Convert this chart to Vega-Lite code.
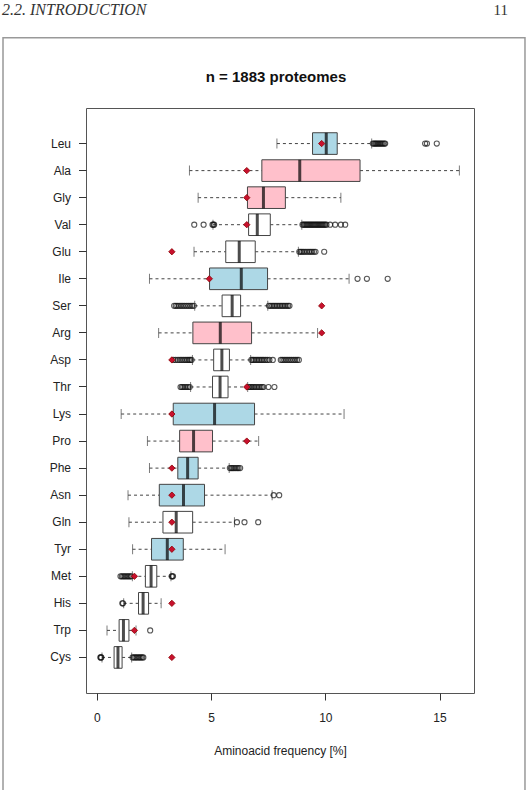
{
  "$schema": "https://vega.github.io/schema/vega-lite/v6.json",
  "autosize": {"type": "none"},
  "width": 388,
  "height": 585,
  "padding": {"left": 86, "top": 108, "right": 56, "bottom": 97},
  "background": "white",
  "config": {
    "font": "Liberation Sans",
    "view": {"stroke": "#555", "strokeWidth": 1},
    "axis": {
      "grid": false,
      "domain": false,
      "tickColor": "#333",
      "labelColor": "#222",
      "titleColor": "#222",
      "labelFont": "Liberation Sans",
      "titleFont": "Liberation Sans",
      "labelFontSize": 12,
      "titleFontSize": 12,
      "titleFontWeight": "normal"
    }
  },
  "datasets": {
    "stats": [
      {"aa": "Leu", "lo": 7.88, "q1": 9.44, "med": 10.04, "q3": 10.52, "hi": 12.03, "expected": 9.84, "group": "AT-rich"},
      {"aa": "Ala", "lo": 4.05, "q1": 7.22, "med": 8.88, "q3": 11.52, "hi": 15.87, "expected": 6.56, "group": "GC-rich"},
      {"aa": "Gly", "lo": 4.43, "q1": 6.59, "med": 7.29, "q3": 8.25, "hi": 10.68, "expected": 6.56, "group": "GC-rich"},
      {"aa": "Val", "lo": 5.08, "q1": 6.64, "med": 7.02, "q3": 7.59, "hi": 8.97, "expected": 6.56, "group": "other"},
      {"aa": "Glu", "lo": 4.25, "q1": 5.64, "med": 6.23, "q3": 6.93, "hi": 8.82, "expected": 3.28, "group": "other"},
      {"aa": "Ile", "lo": 2.30, "q1": 4.93, "med": 6.32, "q3": 7.47, "hi": 11.04, "expected": 4.92, "group": "AT-rich"},
      {"aa": "Ser", "lo": 4.28, "q1": 5.48, "med": 5.92, "q3": 6.29, "hi": 7.48, "expected": 9.84, "group": "other"},
      {"aa": "Arg", "lo": 2.70, "q1": 4.20, "med": 5.40, "q3": 6.77, "hi": 9.66, "expected": 9.84, "group": "GC-rich"},
      {"aa": "Asp", "lo": 4.18, "q1": 5.11, "med": 5.47, "q3": 5.80, "hi": 6.73, "expected": 3.28, "group": "other"},
      {"aa": "Thr", "lo": 4.10, "q1": 5.06, "med": 5.39, "q3": 5.74, "hi": 6.60, "expected": 6.56, "group": "other"},
      {"aa": "Lys", "lo": 1.06, "q1": 3.34, "med": 5.15, "q3": 6.90, "hi": 10.82, "expected": 3.28, "group": "AT-rich"},
      {"aa": "Pro", "lo": 2.21, "q1": 3.62, "med": 4.23, "q3": 5.06, "hi": 7.08, "expected": 6.56, "group": "GC-rich"},
      {"aa": "Phe", "lo": 2.30, "q1": 3.54, "med": 3.97, "q3": 4.43, "hi": 5.79, "expected": 3.28, "group": "AT-rich"},
      {"aa": "Asn", "lo": 1.36, "q1": 2.73, "med": 3.79, "q3": 4.71, "hi": 7.67, "expected": 3.28, "group": "AT-rich"},
      {"aa": "Gln", "lo": 1.40, "q1": 2.89, "med": 3.47, "q3": 4.19, "hi": 6.02, "expected": 3.28, "group": "other"},
      {"aa": "Tyr", "lo": 1.56, "q1": 2.39, "med": 3.08, "q3": 3.78, "hi": 5.61, "expected": 3.28, "group": "AT-rich"},
      {"aa": "Met", "lo": 1.55, "q1": 2.12, "med": 2.37, "q3": 2.62, "hi": 3.24, "expected": 1.64, "group": "other"},
      {"aa": "His", "lo": 1.17, "q1": 1.82, "med": 2.02, "q3": 2.26, "hi": 2.81, "expected": 3.28, "group": "other"},
      {"aa": "Trp", "lo": 0.44, "q1": 0.97, "med": 1.16, "q3": 1.40, "hi": 1.71, "expected": 1.64, "group": "other"},
      {"aa": "Cys", "lo": 0.22, "q1": 0.75, "med": 0.92, "q3": 1.10, "hi": 1.52, "expected": 3.28, "group": "other"}
    ],
    "outliers": [
      {"aa": "Leu", "v": 12.08}, {"aa": "Leu", "v": 12.13}, {"aa": "Leu", "v": 12.18}, {"aa": "Leu", "v": 12.22},
      {"aa": "Leu", "v": 12.27}, {"aa": "Leu", "v": 12.32}, {"aa": "Leu", "v": 12.37}, {"aa": "Leu", "v": 12.42},
      {"aa": "Leu", "v": 12.47}, {"aa": "Leu", "v": 12.52}, {"aa": "Leu", "v": 12.58}, {"aa": "Leu", "v": 12.62},
      {"aa": "Leu", "v": 14.37}, {"aa": "Leu", "v": 14.45}, {"aa": "Leu", "v": 14.88},
      {"aa": "Val", "v": 4.26}, {"aa": "Val", "v": 4.67}, {"aa": "Val", "v": 5.06}, {"aa": "Val", "v": 5.10}, {"aa": "Val", "v": 5.13},
      {"aa": "Val", "v": 9.00}, {"aa": "Val", "v": 9.05}, {"aa": "Val", "v": 9.10}, {"aa": "Val", "v": 9.15},
      {"aa": "Val", "v": 9.20}, {"aa": "Val", "v": 9.25}, {"aa": "Val", "v": 9.30}, {"aa": "Val", "v": 9.35},
      {"aa": "Val", "v": 9.40}, {"aa": "Val", "v": 9.45}, {"aa": "Val", "v": 9.50}, {"aa": "Val", "v": 9.55},
      {"aa": "Val", "v": 9.60}, {"aa": "Val", "v": 9.65}, {"aa": "Val", "v": 9.70}, {"aa": "Val", "v": 9.75},
      {"aa": "Val", "v": 9.80}, {"aa": "Val", "v": 9.85}, {"aa": "Val", "v": 9.90}, {"aa": "Val", "v": 9.95},
      {"aa": "Val", "v": 10.00}, {"aa": "Val", "v": 10.05}, {"aa": "Val", "v": 10.21}, {"aa": "Val", "v": 10.43},
      {"aa": "Val", "v": 10.68}, {"aa": "Val", "v": 10.87},
      {"aa": "Glu", "v": 8.86}, {"aa": "Glu", "v": 8.92}, {"aa": "Glu", "v": 8.98}, {"aa": "Glu", "v": 9.05},
      {"aa": "Glu", "v": 9.12}, {"aa": "Glu", "v": 9.20}, {"aa": "Glu", "v": 9.28}, {"aa": "Glu", "v": 9.35},
      {"aa": "Glu", "v": 9.42}, {"aa": "Glu", "v": 9.50}, {"aa": "Glu", "v": 9.57}, {"aa": "Glu", "v": 9.95},
      {"aa": "Ile", "v": 11.41}, {"aa": "Ile", "v": 11.82}, {"aa": "Ile", "v": 12.73},
      {"aa": "Ser", "v": 3.38}, {"aa": "Ser", "v": 3.45}, {"aa": "Ser", "v": 3.52}, {"aa": "Ser", "v": 3.60},
      {"aa": "Ser", "v": 3.68}, {"aa": "Ser", "v": 3.76}, {"aa": "Ser", "v": 3.84}, {"aa": "Ser", "v": 3.92},
      {"aa": "Ser", "v": 4.00}, {"aa": "Ser", "v": 4.08}, {"aa": "Ser", "v": 4.16}, {"aa": "Ser", "v": 4.24},
      {"aa": "Ser", "v": 7.53}, {"aa": "Ser", "v": 7.60}, {"aa": "Ser", "v": 7.67}, {"aa": "Ser", "v": 7.74},
      {"aa": "Ser", "v": 7.81}, {"aa": "Ser", "v": 7.88}, {"aa": "Ser", "v": 7.95}, {"aa": "Ser", "v": 8.02},
      {"aa": "Ser", "v": 8.09}, {"aa": "Ser", "v": 8.16}, {"aa": "Ser", "v": 8.23}, {"aa": "Ser", "v": 8.30},
      {"aa": "Ser", "v": 8.37}, {"aa": "Ser", "v": 8.43},
      {"aa": "Asp", "v": 3.35}, {"aa": "Asp", "v": 3.45}, {"aa": "Asp", "v": 3.55}, {"aa": "Asp", "v": 3.64},
      {"aa": "Asp", "v": 3.72}, {"aa": "Asp", "v": 3.80}, {"aa": "Asp", "v": 3.88}, {"aa": "Asp", "v": 3.95},
      {"aa": "Asp", "v": 4.02}, {"aa": "Asp", "v": 4.08}, {"aa": "Asp", "v": 4.14},
      {"aa": "Asp", "v": 6.76}, {"aa": "Asp", "v": 6.82}, {"aa": "Asp", "v": 6.88}, {"aa": "Asp", "v": 6.95},
      {"aa": "Asp", "v": 7.02}, {"aa": "Asp", "v": 7.09}, {"aa": "Asp", "v": 7.16}, {"aa": "Asp", "v": 7.23},
      {"aa": "Asp", "v": 7.30}, {"aa": "Asp", "v": 7.38}, {"aa": "Asp", "v": 7.46}, {"aa": "Asp", "v": 7.55},
      {"aa": "Asp", "v": 7.70},
      {"aa": "Asp", "v": 8.05}, {"aa": "Asp", "v": 8.12}, {"aa": "Asp", "v": 8.20}, {"aa": "Asp", "v": 8.28},
      {"aa": "Asp", "v": 8.36}, {"aa": "Asp", "v": 8.44}, {"aa": "Asp", "v": 8.52}, {"aa": "Asp", "v": 8.60},
      {"aa": "Asp", "v": 8.68}, {"aa": "Asp", "v": 8.76}, {"aa": "Asp", "v": 8.84},
      {"aa": "Thr", "v": 3.66}, {"aa": "Thr", "v": 3.72}, {"aa": "Thr", "v": 3.78}, {"aa": "Thr", "v": 3.85},
      {"aa": "Thr", "v": 3.92}, {"aa": "Thr", "v": 3.99}, {"aa": "Thr", "v": 4.06},
      {"aa": "Thr", "v": 6.64}, {"aa": "Thr", "v": 6.70}, {"aa": "Thr", "v": 6.76}, {"aa": "Thr", "v": 6.82},
      {"aa": "Thr", "v": 6.88}, {"aa": "Thr", "v": 6.95}, {"aa": "Thr", "v": 7.02}, {"aa": "Thr", "v": 7.09},
      {"aa": "Thr", "v": 7.16}, {"aa": "Thr", "v": 7.23}, {"aa": "Thr", "v": 7.29}, {"aa": "Thr", "v": 7.51},
      {"aa": "Thr", "v": 7.77},
      {"aa": "Phe", "v": 5.82}, {"aa": "Phe", "v": 5.88}, {"aa": "Phe", "v": 5.94}, {"aa": "Phe", "v": 6.00},
      {"aa": "Phe", "v": 6.07}, {"aa": "Phe", "v": 6.14}, {"aa": "Phe", "v": 6.20}, {"aa": "Phe", "v": 6.27},
      {"aa": "Asn", "v": 7.74}, {"aa": "Asn", "v": 7.98},
      {"aa": "Gln", "v": 6.13}, {"aa": "Gln", "v": 6.46}, {"aa": "Gln", "v": 7.06},
      {"aa": "Met", "v": 1.03}, {"aa": "Met", "v": 1.09}, {"aa": "Met", "v": 1.15}, {"aa": "Met", "v": 1.21},
      {"aa": "Met", "v": 1.27}, {"aa": "Met", "v": 1.33}, {"aa": "Met", "v": 1.39}, {"aa": "Met", "v": 1.45},
      {"aa": "Met", "v": 1.50}, {"aa": "Met", "v": 3.27}, {"aa": "Met", "v": 3.30}, {"aa": "Met", "v": 3.33},
      {"aa": "His", "v": 1.11}, {"aa": "His", "v": 1.14},
      {"aa": "Trp", "v": 2.33},
      {"aa": "Cys", "v": 0.15}, {"aa": "Cys", "v": 0.17}, {"aa": "Cys", "v": 0.19},
      {"aa": "Cys", "v": 1.56}, {"aa": "Cys", "v": 1.62}, {"aa": "Cys", "v": 1.68}, {"aa": "Cys", "v": 1.74},
      {"aa": "Cys", "v": 1.80}, {"aa": "Cys", "v": 1.86}, {"aa": "Cys", "v": 1.92}, {"aa": "Cys", "v": 1.98},
      {"aa": "Cys", "v": 2.03}
    ]
  },
  "layer": [
    {
      "layer": [
        {
          "data": {"name": "stats"},
          "mark": {"type": "rule", "color": "#444", "strokeWidth": 1, "strokeDash": [3, 3]},
          "encoding": {
            "x": {
              "field": "lo", "type": "quantitative",
              "scale": {"domain": [-0.48, 16.51], "nice": false, "zero": false},
              "axis": {
                "values": [0, 5, 10, 15],
                "tickSize": 7,
                "labelPadding": 12,
                "titlePadding": 22
              },
              "title": "Aminoacid frequency [%]"
            },
            "x2": {"field": "q1"},
            "y": {
              "field": "aa", "type": "nominal",
              "scale": {
                "domain": ["Leu", "Ala", "Gly", "Val", "Glu", "Ile", "Ser", "Arg", "Asp", "Thr",
                           "Lys", "Pro", "Phe", "Asn", "Gln", "Tyr", "Met", "His", "Trp", "Cys"],
                "paddingInner": 0.2,
                "paddingOuter": 0.915
              },
              "axis": {"tickSize": 7.5, "labelPadding": 8},
              "title": null
            }
          }
        },
        {
          "data": {"name": "stats"},
          "mark": {"type": "rule", "color": "#444", "strokeWidth": 1, "strokeDash": [3, 3]},
          "encoding": {
            "x": {"field": "q3", "type": "quantitative"},
            "x2": {"field": "hi"},
            "y": {"field": "aa", "type": "nominal"}
          }
        },
        {
          "data": {"name": "stats"},
          "mark": {"type": "tick", "orient": "vertical", "color": "#444", "size": 10, "thickness": 1},
          "encoding": {
            "x": {"field": "lo", "type": "quantitative"},
            "y": {"field": "aa", "type": "nominal"}
          }
        },
        {
          "data": {"name": "stats"},
          "mark": {"type": "tick", "orient": "vertical", "color": "#444", "size": 10, "thickness": 1},
          "encoding": {
            "x": {"field": "hi", "type": "quantitative"},
            "y": {"field": "aa", "type": "nominal"}
          }
        },
        {
          "data": {"name": "stats"},
          "mark": {"type": "bar", "stroke": "#444", "strokeWidth": 1},
          "encoding": {
            "x": {"field": "q1", "type": "quantitative"},
            "x2": {"field": "q3"},
            "y": {"field": "aa", "type": "nominal"},
            "fill": {
              "field": "group", "type": "nominal",
              "scale": {"domain": ["AT-rich", "GC-rich", "other"], "range": ["#add8e6", "#ffc0cb", "#ffffff"]},
              "legend": null
            }
          }
        },
        {
          "data": {"name": "stats"},
          "mark": {"type": "tick", "orient": "vertical", "color": "#000", "size": 21.6, "thickness": 3},
          "encoding": {
            "x": {"field": "med", "type": "quantitative"},
            "y": {"field": "aa", "type": "nominal"}
          }
        },
        {
          "mark": {"type": "rule", "color": "#ff2a2a", "strokeWidth": 1, "strokeDash": [4, 4]},
          "encoding": {
            "x": {"datum": 5, "type": "quantitative"}
          }
        },
        {
          "data": {"name": "outliers"},
          "mark": {"type": "point", "shape": "circle", "filled": false, "stroke": "#111", "strokeWidth": 1.1, "size": 26},
          "encoding": {
            "x": {"field": "v", "type": "quantitative"},
            "y": {"field": "aa", "type": "nominal"}
          }
        },
        {
          "data": {"name": "stats"},
          "mark": {"type": "point", "shape": "diamond", "filled": true, "fill": "#c8102e", "stroke": "#8b0000", "strokeWidth": 0.8, "size": 40, "opacity": 1},
          "encoding": {
            "x": {"field": "expected", "type": "quantitative"},
            "y": {"field": "aa", "type": "nominal"}
          }
        }
      ]
    },
    {
      "data": {"values": [{}]},
      "layer": [
        {
          "mark": {"type": "rect", "fill": null, "fillOpacity": 0, "stroke": "#999", "strokeWidth": 1.5},
          "encoding": {
            "x": {"datum": -0.2139, "type": "quantitative", "scale": {"domain": [0, 1], "nice": false, "zero": false}, "axis": null},
            "x2": {"datum": 1.1314},
            "y": {"datum": 1.1202, "type": "quantitative", "scale": {"domain": [0, 1], "nice": false, "zero": false}, "axis": null},
            "y2": {"datum": -0.1829}
          }
        },
        {
          "mark": {"type": "text", "text": "n = 1883 proteomes", "font": "Liberation Sans", "fontWeight": "bold", "fontSize": 15, "color": "#111", "align": "center", "baseline": "middle"},
          "encoding": {
            "x": {"datum": 0.4897, "type": "quantitative"},
            "y": {"datum": 1.0525, "type": "quantitative"}
          }
        },
        {
          "mark": {"type": "text", "text": "2.2.  INTRODUCTION", "font": "Liberation Serif", "fontStyle": "italic", "fontSize": 16, "color": "#333", "align": "left", "baseline": "alphabetic"},
          "encoding": {
            "x": {"datum": -0.2165, "type": "quantitative"},
            "y": {"datum": 1.1590, "type": "quantitative"}
          }
        },
        {
          "mark": {"type": "text", "text": "11", "font": "Liberation Serif", "fontSize": 15, "color": "#333", "align": "right", "baseline": "alphabetic"},
          "encoding": {
            "x": {"datum": 1.0876, "type": "quantitative"},
            "y": {"datum": 1.1590, "type": "quantitative"}
          }
        }
      ]
    }
  ],
  "resolve": {
    "scale": {"x": "independent", "y": "independent"},
    "axis": {"x": "independent", "y": "independent"}
  }
}
